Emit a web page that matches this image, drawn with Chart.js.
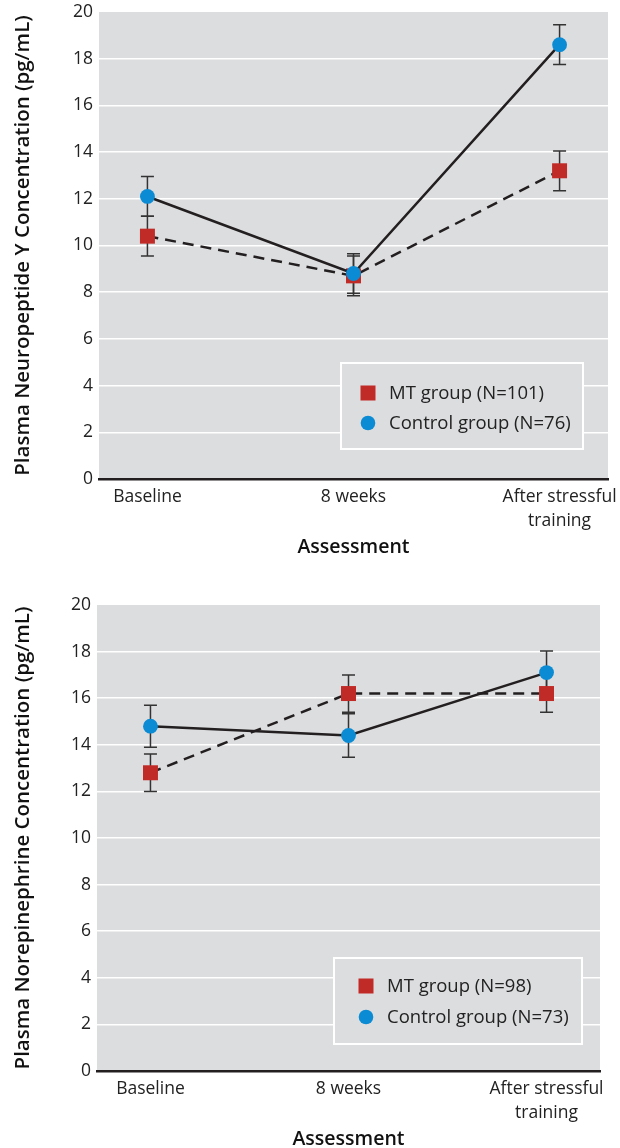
<!DOCTYPE html>
<html>
<head>
<meta charset="utf-8">
<script src="https://cdn.jsdelivr.net/npm/chart.js@4/dist/chart.umd.min.js"></script>
<style>
  body { margin: 0; background: #fff; }
  canvas { position: absolute; left: 0; }
  #npyChart { top: 0; }
  #neChart { top: 575px; }
</style>
</head>
<body>
<canvas id="npyChart" width="620" height="574"></canvas>
<canvas id="neChart" width="620" height="573"></canvas>
<script>
// Categories and tick labels
const categories = ["Baseline", "8 weeks", ["After stressful", "training"]];
const yTicks = [0, 2, 4, 6, 8, 10, 12, 14, 16, 18, 20];

// Neuropeptide Y (top panel)
const npyMT = [10.4, 8.7, 13.2];
const npyMTErr = [0.85, 0.85, 0.85];
const npyCtrl = [12.1, 8.8, 18.6];
const npyCtrlErr = [0.85, 0.85, 0.85];

// Norepinephrine (bottom panel)
const neMT = [12.8, 16.2, 16.2];
const neMTErr = [0.8, 0.8, 0.8];
const neCtrl = [14.8, 14.4, 17.1];
const neCtrlErr = [0.9, 0.93, 0.93];

const FONT = "'Open Sans', 'Noto Sans', sans-serif";
const RED = "#c12b27";
const BLUE = "#0b8bd3";
const INK = "#231f20";
const PLOT_BG = "#dcdddf";

// grey plot area
const plotBg = {
    id: "plotBg",
    beforeDraw(chart) {
        const { ctx, chartArea: a } = chart;
        ctx.save();
        ctx.fillStyle = PLOT_BG;
        ctx.fillRect(a.left, a.top, a.right - a.left, a.bottom - a.top);
        ctx.restore();
    }
};

// error bars, drawn under the markers
const errorBars = {
    id: "errorBars",
    beforeDatasetsDraw(chart) {
        const { ctx, scales } = chart;
        ctx.save();
        ctx.strokeStyle = "#333";
        ctx.lineWidth = 1.5;
        chart.data.datasets.forEach(ds => {
            ds.data.forEach((p, i) => {
                const e = ds.errors[i];
                const x = scales.x.getPixelForValue(p.x);
                const y1 = scales.y.getPixelForValue(p.y + e);
                const y2 = scales.y.getPixelForValue(p.y - e);
                ctx.beginPath();
                ctx.moveTo(x, y1); ctx.lineTo(x, y2);
                ctx.moveTo(x - 6.5, y1); ctx.lineTo(x + 6.5, y1);
                ctx.moveTo(x - 6.5, y2); ctx.lineTo(x + 6.5, y2);
                ctx.stroke();
            });
        });
        ctx.restore();
    }
};

// legend box inside the plot
const boxLegend = {
    id: "boxLegend",
    afterDraw(chart, args, opts) {
        const { ctx } = chart;
        const b = opts.box;
        ctx.save();
        ctx.fillStyle = PLOT_BG;
        ctx.fillRect(b.x, b.y, b.w, b.h);
        ctx.strokeStyle = "#fff";
        ctx.lineWidth = 2;
        ctx.strokeRect(b.x, b.y, b.w, b.h);
        ctx.font = "18.5px " + FONT;
        ctx.textBaseline = "middle";
        chart.data.datasets.forEach((ds, i) => {
            const y = opts.rows[i];
            ctx.fillStyle = ds.backgroundColor;
            if (ds.pointStyle === "rect") {
                ctx.fillRect(opts.markerX - 7.5, y - 7.5, 15, 15);
            } else {
                ctx.beginPath();
                ctx.arc(opts.markerX, y, 7.3, 0, Math.PI * 2);
                ctx.fill();
            }
            ctx.fillStyle = "#222";
            ctx.fillText(ds.label, opts.textX, y + 1);
        });
        ctx.restore();
    }
};

function makeChart(id, cfg) {
    const toPts = arr => arr.map((v, i) => ({ x: i, y: v }));
    return new Chart(document.getElementById(id), {
        type: "line",
        data: {
            datasets: [
                {
                    label: cfg.mtLabel,
                    data: toPts(cfg.mt),
                    errors: cfg.mtErr,
                    borderColor: INK,
                    borderWidth: 2.5,
                    borderDash: [11, 7],
                    backgroundColor: RED,
                    pointBackgroundColor: RED,
                    pointBorderWidth: 0,
                    pointStyle: "rect",
                    pointRadius: 10.6,
                    pointHoverRadius: 10.6,
                    order: 1
                },
                {
                    label: cfg.ctrlLabel,
                    data: toPts(cfg.ctrl),
                    errors: cfg.ctrlErr,
                    borderColor: INK,
                    borderWidth: 2.5,
                    backgroundColor: BLUE,
                    pointBackgroundColor: BLUE,
                    pointBorderWidth: 0,
                    pointStyle: "circle",
                    pointRadius: 7.4,
                    pointHoverRadius: 7.4,
                    order: 0
                }
            ]
        },
        options: {
            responsive: false,
            animation: false,
            layout: { padding: cfg.padding },
            plugins: {
                legend: { display: false },
                tooltip: { enabled: false },
                boxLegend: cfg.legend
            },
            scales: {
                x: {
                    type: "linear",
                    min: -cfg.xPad,
                    max: 2 + cfg.xPad,
                    afterBuildTicks: s => { s.ticks = categories.map((c, i) => ({ value: i })); },
                    afterFit: s => { s.height = cfg.xHeight; s.paddingLeft = 0; s.paddingRight = 0; },
                    grid: { display: false, drawTicks: false },
                    border: { display: true, color: INK, width: 2.5 },
                    ticks: {
                        padding: 6,
                        maxRotation: 0,
                        color: "#222",
                        font: { family: FONT, size: 17.5, lineHeight: "24px" },
                        callback: v => categories[Math.round(v)]
                    },
                    title: {
                        display: true,
                        text: "Assessment",
                        color: "#111",
                        font: { family: FONT, size: 19.5, weight: "600" },
                        padding: { top: 0, bottom: cfg.titleBottom }
                    }
                },
                y: {
                    min: 0,
                    max: 20,
                    afterBuildTicks: s => { s.ticks = yTicks.map(v => ({ value: v })); },
                    afterFit: s => { s.width = cfg.yWidth; s.paddingTop = 0; s.paddingBottom = 0; },
                    grid: {
                        drawTicks: false,
                        lineWidth: 1.5,
                        color: c => (c.tick && (c.tick.value === 0 || c.tick.value === 20)) ? "rgba(0,0,0,0)" : "#ffffff"
                    },
                    border: { display: false },
                    ticks: {
                        padding: 6,
                        color: "#222",
                        font: { family: FONT, size: 17.5 }
                    },
                    title: {
                        display: true,
                        text: cfg.yTitle,
                        color: "#111",
                        font: { family: FONT, size: 20.5, weight: "600" },
                        padding: { top: 11, bottom: 0 }
                    }
                }
            }
        },
        plugins: [plotBg, errorBars, boxLegend]
    });
}

document.addEventListener("DOMContentLoaded", () => {
    makeChart("npyChart", {
        mt: npyMT, mtErr: npyMTErr, ctrl: npyCtrl, ctrlErr: npyCtrlErr,
        mtLabel: "MT group (N=101)", ctrlLabel: "Control group (N=76)",
        yTitle: "Plasma Neuropeptide Y Concentration (pg/mL)",
        padding: { top: 12, right: 12, left: 0, bottom: 0 },
        xPad: 0.235, xHeight: 95, yWidth: 99, titleBottom: 15,
        legend: { box: { x: 341, y: 363, w: 242, h: 86 }, markerX: 368, textX: 389, rows: [393, 423] }
    });
    makeChart("neChart", {
        mt: neMT, mtErr: neMTErr, ctrl: neCtrl, ctrlErr: neCtrlErr,
        mtLabel: "MT group (N=98)", ctrlLabel: "Control group (N=73)",
        yTitle: "Plasma Norepinephrine Concentration (pg/mL)",
        padding: { top: 30, right: 20, left: 0, bottom: 0 },
        xPad: 0.27, xHeight: 77, yWidth: 97, titleBottom: -3,
        legend: { box: { x: 334, y: 383, w: 248, h: 86 }, markerX: 366, textX: 387, rows: [411, 442] }
    });
});
</script>
</body>
</html>
